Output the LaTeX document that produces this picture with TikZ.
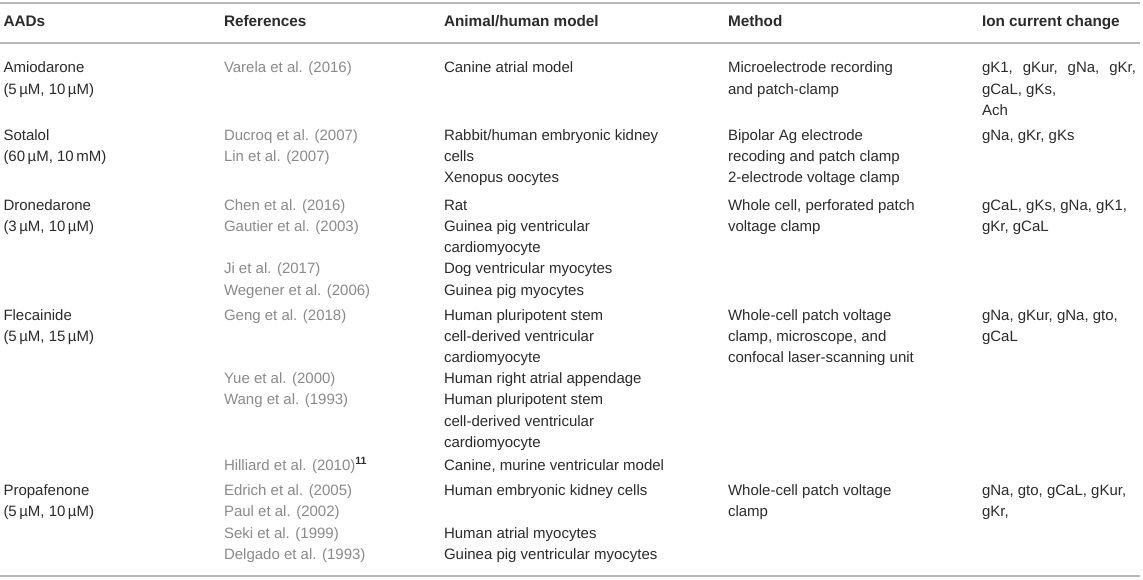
\documentclass[tikz,border=0pt]{standalone}
\usepackage{fontspec}
\setmainfont{Liberation Sans}
\definecolor{ink}{HTML}{2B2B2B}
\definecolor{refgray}{HTML}{8A8A8A}
\definecolor{rulegray}{HTML}{B8B8B8}
\tikzset{
  txt/.style={anchor=base west, inner sep=0pt, outer sep=0pt, text=ink, font=\fontsize{15}{18}\selectfont},
  reftxt/.style={txt, text=refgray},
  hd/.style={txt, font=\fontsize{15.3}{18}\selectfont\bfseries},
  tabrule/.style={draw=rulegray, line width=1.8pt}
}
\begin{document}
\begin{tikzpicture}[x=1pt,y=-1pt]
\useasboundingbox (0,0) rectangle (1143,579);
% rules
\coordinate (t0) at (0,2.7); \coordinate (t1) at (1140,2.7);
\coordinate (m0) at (0,43.3); \coordinate (m1) at (1140,43.3);
\coordinate (b0) at (0,576); \coordinate (b1) at (1140,576);
\draw[tabrule] (t0) -- (t1);
\draw[tabrule] (m0) -- (m1);
\draw[tabrule] (b0) -- (b1);
% header
\node[hd] (h1) at (3.5,26.5) {AADs};
\node[hd] (h2) at (224,26.5) {References};
\node[hd] (h3) at (444,26.5) {Animal/human model};
\node[hd] (h4) at (728,26.5) {Method};
\node[hd] (h5) at (982,26.5) {Ion current change};
% ---------- Amiodarone
\node[txt] (a1) at (3.5,72.7) {Amiodarone};
\node[txt] (a2) at (3.5,94) {(5\,µM, 10\,µM)};
\node[reftxt] (ar1) at (224,72.7) {Varela et al. (2016)};
\node[txt] (am1) at (444,72.7) {Canine atrial model};
\node[txt] (ame1) at (728,72.7) {Microelectrode recording};
\node[txt] (ame2) at (728,94) {and patch-clamp};
\node[txt] (ai1) at (982,72.7) {\makebox[154pt][s]{gK1, gKur, gNa, gKr,}};
\node[txt] (ai2) at (982,94) {gCaL, gKs,};
\node[txt] (ai3) at (982,115.3) {Ach};
% ---------- Sotalol
\node[txt] (s1) at (3.5,140) {Sotalol};
\node[txt] (s2) at (3.5,161.3) {(60\,µM, 10\,mM)};
\node[reftxt] (sr1) at (224,140) {Ducroq et al. (2007)};
\node[reftxt] (sr2) at (224,161.3) {Lin et al. (2007)};
\node[txt] (sm1) at (444,140) {Rabbit/human embryonic kidney};
\node[txt] (sm2) at (444,161.3) {cells};
\node[txt] (sm3) at (444,182.6) {Xenopus oocytes};
\node[txt] (sme1) at (728,140) {Bipolar Ag electrode};
\node[txt] (sme2) at (728,161.3) {recoding and patch clamp};
\node[txt] (sme3) at (728,182.6) {2-electrode voltage clamp};
\node[txt] (si1) at (982,140) {gNa, gKr, gKs};
% ---------- Dronedarone
\node[txt] (d1) at (3.5,210) {Dronedarone};
\node[txt] (d2) at (3.5,231.5) {(3\,µM, 10\,µM)};
\node[reftxt] (dr1) at (224,210) {Chen et al. (2016)};
\node[reftxt] (dr2) at (224,231.5) {Gautier et al. (2003)};
\node[reftxt] (dr3) at (224,273.5) {Ji et al. (2017)};
\node[reftxt] (dr4) at (224,295) {Wegener et al. (2006)};
\node[txt] (dm1) at (444,210) {Rat};
\node[txt] (dm2) at (444,231.5) {Guinea pig ventricular};
\node[txt] (dm3) at (444,252.7) {cardiomyocyte};
\node[txt] (dm4) at (444,273.5) {Dog ventricular myocytes};
\node[txt] (dm5) at (444,295) {Guinea pig myocytes};
\node[txt] (dme1) at (728,210) {Whole cell, perforated patch};
\node[txt] (dme2) at (728,231.5) {voltage clamp};
\node[txt] (di1) at (982,210) {gCaL, gKs, gNa, gK1,};
\node[txt] (di2) at (982,231.5) {gKr, gCaL};
% ---------- Flecainide
\node[txt] (f1) at (3.5,320) {Flecainide};
\node[txt] (f2) at (3.5,341) {(5\,µM, 15\,µM)};
\node[reftxt] (fr1) at (224,320) {Geng et al. (2018)};
\node[reftxt] (fr2) at (224,383) {Yue et al. (2000)};
\node[reftxt] (fr3) at (224,404) {Wang et al. (1993)};
\node[reftxt] (fr4) at (224,470) {Hilliard et al. (2010)\textcolor{ink}{\textsuperscript{\bfseries 11}}};
\node[txt] (fm1) at (444,320) {Human pluripotent stem};
\node[txt] (fm2) at (444,341) {cell-derived ventricular};
\node[txt] (fm3) at (444,362) {cardiomyocyte};
\node[txt] (fm4) at (444,383) {Human right atrial appendage};
\node[txt] (fm5) at (444,404) {Human pluripotent stem};
\node[txt] (fm6) at (444,426) {cell-derived ventricular};
\node[txt] (fm7) at (444,447) {cardiomyocyte};
\node[txt] (fm8) at (444,470) {Canine, murine ventricular model};
\node[txt] (fme1) at (728,320) {Whole-cell patch voltage};
\node[txt] (fme2) at (728,341) {clamp, microscope, and};
\node[txt] (fme3) at (728,362) {confocal laser-scanning unit};
\node[txt] (fi1) at (982,320) {gNa, gKur, gNa, gto,};
\node[txt] (fi2) at (982,341) {gCaL};
% ---------- Propafenone
\node[txt] (p1) at (3.5,495) {Propafenone};
\node[txt] (p2) at (3.5,516.5) {(5\,µM, 10\,µM)};
\node[reftxt] (pr1) at (224,495) {Edrich et al. (2005)};
\node[reftxt] (pr2) at (224,516.5) {Paul et al. (2002)};
\node[reftxt] (pr3) at (224,538) {Seki et al. (1999)};
\node[reftxt] (pr4) at (224,559.5) {Delgado et al. (1993)};
\node[txt] (pm1) at (444,495) {Human embryonic kidney cells};
\node[txt] (pm3) at (444,538) {Human atrial myocytes};
\node[txt] (pm4) at (444,559.5) {Guinea pig ventricular myocytes};
\node[txt] (pme1) at (728,495) {Whole-cell patch voltage};
\node[txt] (pme2) at (728,516.5) {clamp};
\node[txt] (pi1) at (982,495) {gNa, gto, gCaL, gKur,};
\node[txt] (pi2) at (982,516.5) {gKr,};
\end{tikzpicture}
\end{document}
